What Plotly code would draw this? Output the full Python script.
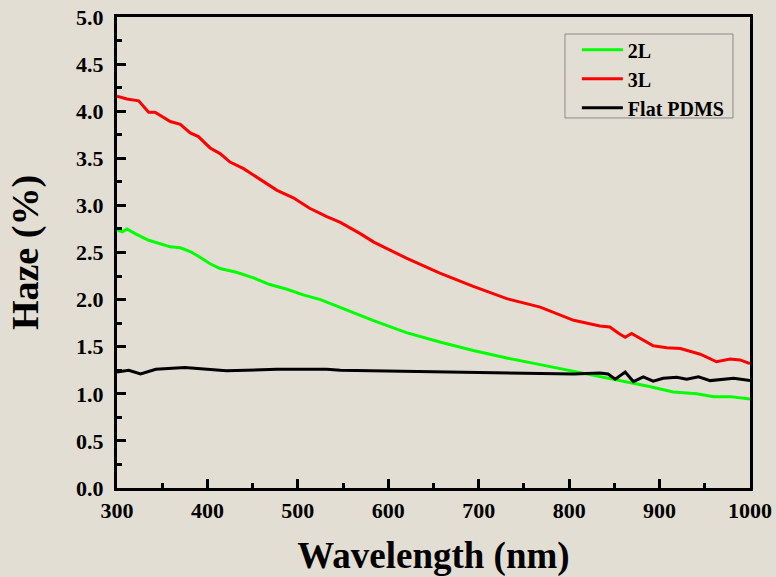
import plotly.graph_objects as go

# ---- data ----
wl_3L = [300, 311, 324, 335, 342, 359, 370, 381, 390, 403, 414, 425, 440, 458, 477, 495,
         513, 532, 547, 569, 584, 620, 657, 694, 731, 768, 805, 834, 845, 855, 862, 869,
         878, 893, 908, 923, 945, 963, 978, 989, 1000]
haze_3L = [4.16, 4.13, 4.11, 3.99, 3.99, 3.89, 3.86, 3.77, 3.73, 3.61, 3.55, 3.46, 3.39, 3.28,
           3.16, 3.08, 2.97, 2.88, 2.82, 2.70, 2.61, 2.44, 2.28, 2.14, 2.01, 1.92, 1.78, 1.72,
           1.71, 1.64, 1.60, 1.64, 1.59, 1.51, 1.49, 1.48, 1.42, 1.34, 1.37, 1.36, 1.32]

wl_2L = [300, 306, 311, 320, 335, 346, 359, 370, 381, 390, 403, 414, 432, 451, 469, 488,
         506, 525, 543, 562, 583, 620, 657, 694, 731, 768, 805, 842, 864, 890, 915, 941,
         960, 978, 1000]
haze_2L = [2.74, 2.72, 2.75, 2.70, 2.63, 2.60, 2.56, 2.55, 2.51, 2.46, 2.38, 2.33, 2.29, 2.23,
           2.16, 2.11, 2.05, 2.00, 1.93, 1.86, 1.78, 1.65, 1.55, 1.46, 1.38, 1.31, 1.24, 1.17,
           1.13, 1.075, 1.02, 1.00, 0.97, 0.97, 0.945]

wl_flat = [300, 313, 326, 343, 375, 421, 477, 532, 547, 620, 700, 768, 805, 834, 843, 851,
           862, 871, 882, 893, 904, 919, 930, 943, 956, 982, 1000]
haze_flat = [1.23, 1.25, 1.21, 1.26, 1.28, 1.245, 1.26, 1.26, 1.25, 1.24, 1.23, 1.22, 1.21,
             1.22, 1.21, 1.155, 1.23, 1.13, 1.18, 1.135, 1.165, 1.175, 1.155, 1.18, 1.14,
             1.165, 1.14]

x_ticks = [300, 400, 500, 600, 700, 800, 900, 1000]
y_ticks = [0.0, 0.5, 1.0, 1.5, 2.0, 2.5, 3.0, 3.5, 4.0, 4.5, 5.0]

BG = "#e3ded3"
FONT = "Liberation Serif"

fig = go.Figure()
fig.add_trace(go.Scatter(x=wl_2L, y=haze_2L, mode="lines", name="2L",
                         line=dict(color="#00ff00", width=3)))
fig.add_trace(go.Scatter(x=wl_3L, y=haze_3L, mode="lines", name="3L",
                         line=dict(color="#ff0000", width=3)))
fig.add_trace(go.Scatter(x=wl_flat, y=haze_flat, mode="lines", name="Flat PDMS",
                         line=dict(color="#000000", width=3)))

axis_common = dict(
    showline=True, linecolor="black", linewidth=3, mirror=True,
    ticks="inside", ticklen=9, tickwidth=3, tickcolor="black",
    showgrid=False, zeroline=False,
    tickfont=dict(family=FONT, size=22, color="black", weight="bold"),
)

fig.update_xaxes(
    range=[300, 1000], tickvals=x_ticks, ticktext=[str(v) for v in x_ticks],
    minor=dict(dtick=50, ticks="inside", ticklen=5, tickwidth=3, tickcolor="black"),
    title=dict(text="<b>Wavelength (nm)</b>", font=dict(family=FONT, size=37, color="black"),
               standoff=20),
    ticklabelstandoff=1,
    **axis_common,
)
fig.update_yaxes(
    range=[0, 5], tickvals=y_ticks, ticktext=[f"{v:.1f}" for v in y_ticks],
    minor=dict(dtick=0.25, ticks="inside", ticklen=5, tickwidth=3, tickcolor="black"),
    title=dict(text="<b>Haze (%)</b>", font=dict(family=FONT, size=38, color="black"),
               standoff=26),
    ticklabelstandoff=6,
    **axis_common,
)

# legend frame (drawn as a shape so its size matches the reference)
fig.add_shape(type="rect", xref="paper", yref="paper",
              x0=0.7077, x1=0.9731, y0=0.7856, y1=0.9639,
              line=dict(color="#8a8a8a", width=1), fillcolor="rgba(0,0,0,0)", layer="above")

fig.update_layout(
    width=776, height=577,
    margin=dict(l=117, r=26, t=17, b=89, autoexpand=False),
    paper_bgcolor=BG, plot_bgcolor=BG,
    showlegend=True,
    legend=dict(x=0.7265, y=0.972, xanchor="left", yanchor="top",
                bgcolor="rgba(0,0,0,0)", borderwidth=0,
                font=dict(family=FONT, size=20, color="black", weight="bold"),
                tracegroupgap=0, itemwidth=41),
)

fig.write_html("out.html", config={"displayModeBar": False},
               post_script="document.body.style.margin='0';document.body.style.padding='0';")
